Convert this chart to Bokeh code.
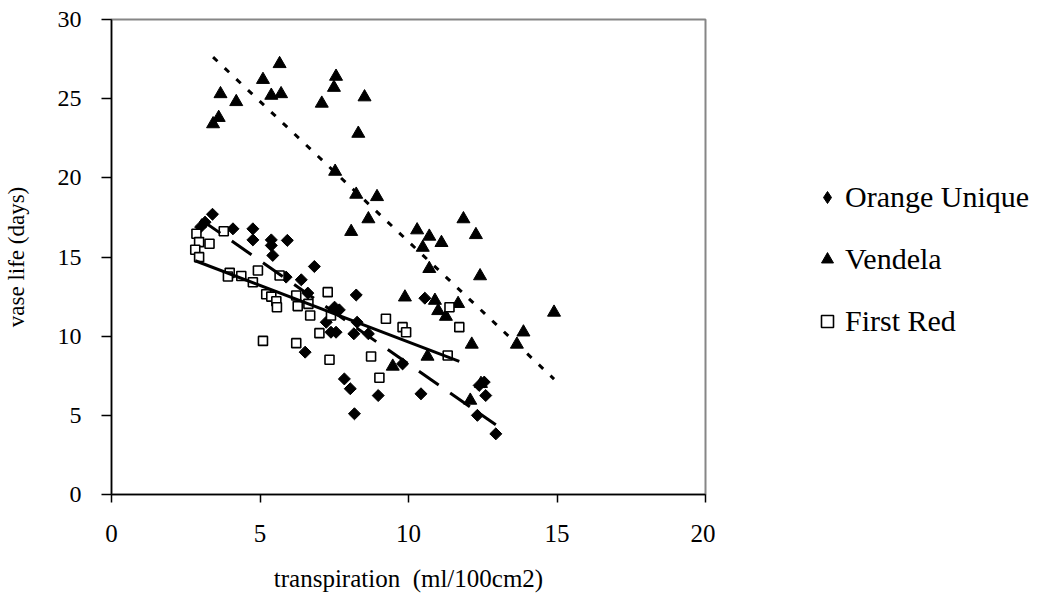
import numpy as np
from bokeh.plotting import figure
from bokeh.layouts import row
from bokeh.models import Range1d, Legend, LegendItem
from bokeh.embed import file_html
from bokeh.resources import INLINE

# ---- data ----
orange_x = [3.0, 3.15, 3.4, 4.09, 4.76, 4.76, 5.38, 5.38, 5.92, 5.43, 5.88, 6.39, 6.83, 6.61,
            8.24, 7.51, 7.67, 7.23, 8.27, 7.39, 7.56, 8.16, 8.65, 6.52, 7.84, 8.04, 8.98,
            10.42, 8.18, 9.80, 10.55, 12.55, 12.38, 12.6, 12.32, 12.94]
orange_y = [16.9, 17.2, 17.7, 16.78, 16.78, 16.08, 16.08, 15.73, 16.05, 15.1, 13.73, 13.56, 14.4, 12.72,
            12.6, 11.83, 11.66, 10.88, 10.88, 10.25, 10.25, 10.15, 10.15, 8.99, 7.3, 6.68, 6.25,
            6.36, 5.1, 8.25, 12.4, 7.1, 6.89, 6.25, 5.0, 3.83]

vendela_x = [3.42, 3.61, 3.67, 4.2, 5.1, 5.38, 5.71, 5.66, 7.08, 7.49, 7.56, 8.52, 8.31, 7.53,
             8.24, 8.94, 8.07, 8.65, 10.29, 10.70, 10.48, 11.11, 11.85, 12.27, 10.70, 12.41,
             9.88, 10.89, 11.67, 11.0, 11.26, 14.9, 13.87, 13.65, 12.13, 10.64, 9.47, 12.08, 12.44]
vendela_y = [23.4, 23.8, 25.3, 24.8, 26.2, 25.2, 25.3, 27.2, 24.7, 25.7, 26.4, 25.1, 22.8, 20.4,
             18.95, 18.8, 16.6, 17.4, 16.7, 16.3, 15.6, 15.9, 17.4, 16.4, 14.26, 13.8,
             12.46, 12.25, 12.05, 11.6, 11.24, 11.5, 10.25, 9.48, 9.48, 8.72, 8.09, 5.94, 7.0]

firstred_x = [2.86, 2.95, 3.30, 2.82, 2.95, 3.78, 3.98, 3.92, 4.37, 4.76, 4.93, 5.21, 5.38, 5.55,
              5.57, 5.66, 6.22, 6.27, 6.63, 6.69, 7.28, 7.39, 7.0, 6.22, 7.34, 9.24, 9.80, 9.92,
              8.74, 9.02, 11.32, 11.71, 11.38, 5.10]
firstred_y = [16.47, 15.94, 15.84, 15.46, 14.99, 16.63, 14.0, 13.77, 13.8, 13.41, 14.15, 12.65, 12.5, 12.21,
              11.83, 13.83, 12.57, 11.9, 12.04, 11.31, 12.78, 11.31, 10.19, 9.56, 8.51, 11.1, 10.57, 10.25,
              8.72, 7.37, 8.78, 10.57, 11.83, 9.7]

series_names = ["Orange Unique", "Vendela", "First Red"]
x_ticks = [0, 5, 10, 15, 20]
y_ticks = [0, 5, 10, 15, 20, 25, 30]

FONT = "Liberation Serif"
H = 595

p = figure(width=715, height=H, output_backend="svg", toolbar_location=None,
           x_range=Range1d(0, 20), y_range=Range1d(0, 30),
           min_border_left=110, min_border_top=19, min_border_right=10, min_border_bottom=H - 494,
           background_fill_color="white", border_fill_color="white")

p.grid.visible = False
p.outline_line_color = "#868686"
p.outline_line_width = 2

# axes
p.xaxis.ticker = x_ticks
p.yaxis.ticker = y_ticks
for ax in (p.xaxis[0], p.yaxis[0]):
    ax.axis_line_color = "black"
    ax.axis_line_width = 1.5
    ax.major_tick_line_color = "black"
    ax.major_tick_line_width = 1.5
    ax.major_tick_in = 0
    ax.minor_tick_line_color = None
    ax.major_label_text_font = FONT
    ax.major_label_text_color = "black"
    ax.axis_label_text_font = FONT
    ax.axis_label_text_font_style = "normal"
    ax.axis_label_text_color = "black"

p.xaxis.major_tick_out = 8
p.yaxis.major_tick_out = 10
p.xaxis.major_label_text_font_size = "25px"
p.yaxis.major_label_text_font_size = "24px"
p.xaxis.axis_label = "transpiration\u00a0 (ml/100cm2)"
p.yaxis.axis_label = "vase life (days)"
p.xaxis.axis_label_text_font_size = "25px"
p.yaxis.axis_label_text_font_size = "23px"
p.xaxis.major_label_standoff = 22
p.yaxis.major_label_standoff = 20
p.xaxis.axis_label_standoff = 20
p.yaxis.axis_label_standoff = 26

# scatter series
r_or = p.scatter(orange_x, orange_y, marker="square", angle=np.pi / 4, size=8.5,
                 fill_color="black", line_color="black", line_width=1)
r_ve = p.scatter(vendela_x, vendela_y, marker="triangle", size=13,
                 fill_color="black", line_color="black", line_width=1)
r_fr = p.scatter(firstred_x, firstred_y, marker="square", size=9,
                 fill_color="white", line_color="black", line_width=1.6)

# linear trend lines fitted to each series
def trend(xs, ys):
    xs = np.asarray(xs); ys = np.asarray(ys)
    m, b = np.polyfit(xs, ys, 1)
    xx = np.array([xs.min(), xs.max()])
    return xx, m * xx + b

tx, ty = trend(orange_x, orange_y)
p.line(tx, ty, line_color="black", line_width=3, line_dash="24 14")
tx, ty = trend(vendela_x, vendela_y)
p.line(tx, ty, line_color="black", line_width=3, line_dash="6 10")
tx, ty = trend(firstred_x, firstred_y)
p.line(tx, ty, line_color="black", line_width=3)

# ---- legend panel (separate figure to the right, same height) ----
# The key renderers hold the series data but the panel's ranges keep them off-screen,
# so only their legend symbols are shown.
lg = figure(width=315, height=H, output_backend="svg", toolbar_location=None,
            x_range=Range1d(100, 101), y_range=Range1d(100, 101),
            min_border_left=0, min_border_right=0, min_border_top=0, min_border_bottom=0,
            background_fill_color="white", border_fill_color="white")
lg.axis.visible = False
lg.grid.visible = False
lg.outline_line_color = None

k_or = lg.scatter(orange_x, orange_y, marker="diamond", size=12, fill_color="black", line_color="black", line_width=1)
k_ve = lg.scatter(vendela_x, vendela_y, marker="triangle", size=13, fill_color="black", line_color="black", line_width=1)
k_fr = lg.scatter(firstred_x, firstred_y, marker="square", size=9, fill_color="white", line_color="black", line_width=1.6)

legend = Legend(items=[LegendItem(label=series_names[0], renderers=[k_or]),
                       LegendItem(label=series_names[1], renderers=[k_ve]),
                       LegendItem(label=series_names[2], renderers=[k_fr])],
                location=(97, 156), orientation="vertical")
legend.border_line_color = None
legend.background_fill_alpha = 0
legend.label_text_font = FONT
legend.label_text_font_size = "30px"
legend.label_text_color = "black"
legend.glyph_width = 30
legend.glyph_height = 30
legend.spacing = 28
legend.padding = 0
legend.margin = 0
legend.label_standoff = 3
lg.add_layout(legend)

layout = row(p, lg)
open("out.html", "w").write(file_html(layout, INLINE))
